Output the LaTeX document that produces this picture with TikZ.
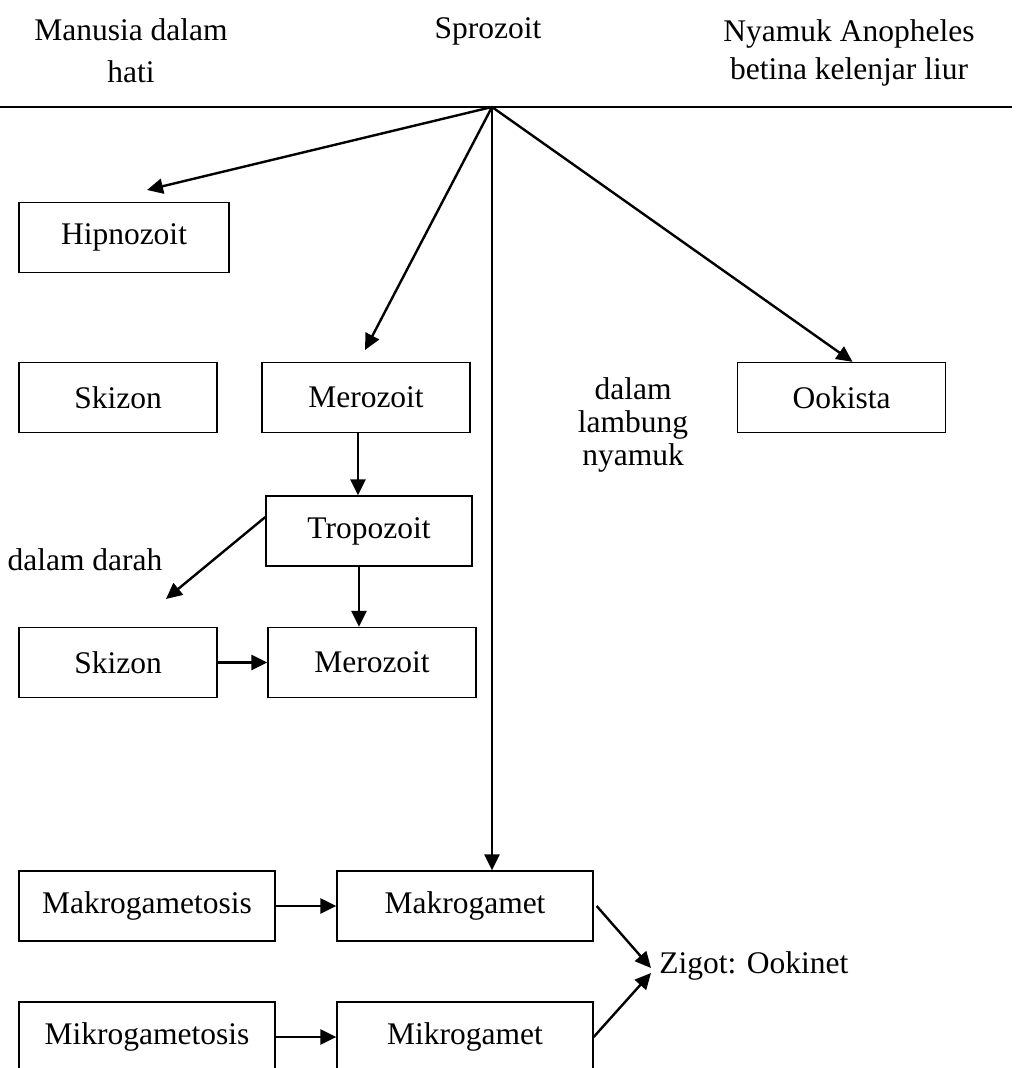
\documentclass[tikz,border=0pt]{standalone}
\usepackage{fontspec}
\setmainfont{Liberation Serif}
\usetikzlibrary{arrows.meta}
\usetikzlibrary{calc}
\usetikzlibrary{positioning}

\begin{document}
\begin{tikzpicture}[x=0.5pt,y=-0.5pt,-,auto,node distance=2cm,
    font=\fontsize{15.75pt}{17pt}\selectfont]
    \tikzstyle{box}=[draw, rectangle, line width=0.65pt, minimum height=35pt, inner sep=2pt]
    \tikzstyle{txt}=[align=center, inner sep=0pt]
    \tikzstyle{arr}=[-{Triangle[length=8pt,width=7.5pt]}, line width=1.2pt]
    \useasboundingbox (0,0) rectangle (1019,1068);
    \clip (0,0) rectangle (1019,1068);

    % headings
    \node[txt, font=\fontsize{15.75pt}{21pt}\selectfont] (man) at (131,51) {Manusia dalam\\hati};
    \node[txt] (spro) at (488,31) {Sprozoit};
    \node[txt, font=\fontsize{15.75pt}{19pt}\selectfont] (nyam) at (849,53) {Nyamuk Anopheles\\betina kelenjar liur};
    \coordinate (hub) at (492,107);
    \draw[line width=1pt] (0,107) -- (698,107);
    \draw[line width=0.6pt] (698,107) -- (1000,107);
    \draw[line width=1pt] (1000,107.5) -- (1012,107.5);

    % stages
    \node[box, minimum width=105pt] (hip) at (124,237.5) {Hipnozoit};
    \node[box, minimum width=99pt]  (ski1) at (118,397.5) {Skizon};
    \node[box, minimum width=104pt] (mer1) [right of=ski1, node distance=124pt] {Merozoit};
    \node[box, minimum width=104pt] (ook) at (841.5,397.5) {Ookista};
    \node[box, minimum width=103pt] (tro) at (369,531) {Tropozoit};
    \node[box, minimum width=104pt] (mer2) at (372,662.5) {Merozoit};
    \node[box, minimum width=99pt]  (ski2) [left of=mer2, node distance=127pt] {Skizon};
    \node[box, minimum width=128pt] (mak1) at (147,906) {Makrogametosis};
    \node[box, minimum width=128pt] (mak2) [right of=mak1, node distance=159pt] {Makrogamet};
    \node[box, minimum width=128pt] (mik1) [below of=mak1, node distance=65.5pt] {Mikrogametosis};
    \node[box, minimum width=128pt] (mik2) [right of=mik1, node distance=159pt] {Mikrogamet};

    % side texts
    \node[txt, font=\fontsize{15.75pt}{16.5pt}\selectfont] (lamb) at (633,425) {dalam\\lambung\\nyamuk};
    \node[txt] (darah) at (85,560) {dalam darah};
    \node[anchor=west, inner sep=4pt] (zig) at (651,966) {Zigot: Ookinet};

    \coordinate (hipT) at (147,190);
    \coordinate (merT) at (365,350);
    \coordinate (darT) at (166,599);

    \draw[arr] (hub) -- (hipT);
    \draw[arr] (hub) -- (merT);
    \draw[arr] (hub) -- (hub |- mak2.north);
    \draw[arr] (hub) -- ([xshift=5.5pt]ook.north);
    \draw[arr] ([xshift=-4pt]mer1.south) -- ([xshift=-4pt]mer1.south |- tro.north);
    \draw[arr] ([xshift=-5pt]tro.south) -- ([xshift=-5pt]tro.south |- mer2.north);
    \draw[arr] ([yshift=7pt]tro.west) -- (darT);
    \draw[arr] (ski2) -- (mer2);
    \draw[arr] (mak1) -- (mak2);
    \draw[arr] (mik1) -- (mik2);
    \draw[arr] ([xshift=1.5pt]mak2.east) -- ([yshift=-1pt]zig.west);
    \draw[arr] (mik2.east) -- ([yshift=-3.5pt]zig.west);
\end{tikzpicture}
\end{document}
